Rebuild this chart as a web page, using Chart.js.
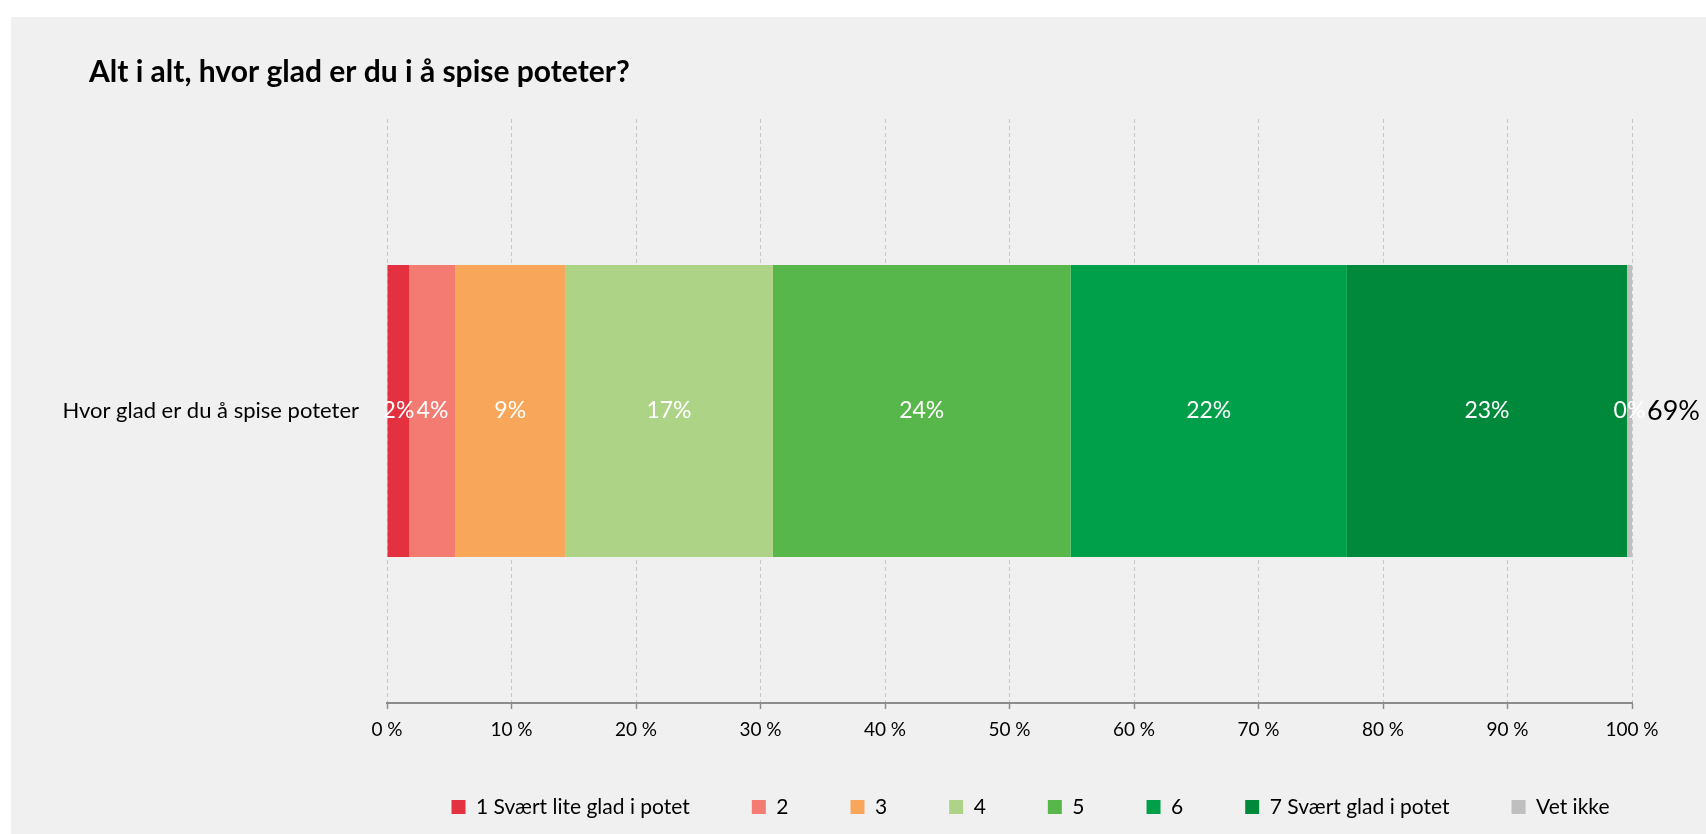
<!DOCTYPE html>
<html>
<head>
<meta charset="utf-8">
<script src="https://cdn.jsdelivr.net/npm/chart.js@4"></script>
<style>
  html, body { margin: 0; padding: 0; background: #ffffff; }
  #wrap {
    position: absolute; left: 11px; top: 17px;
    width: 1695px; height: 817px;
    background: #f0f0f0;
  }
</style>
</head>
<body>
<div id="wrap"><canvas id="potetChart"></canvas></div>
<script>
const categories = ['Hvor glad er du å spise poteter'];
const seriesNames = ['1 Svært lite glad i potet', '2', '3', '4', '5', '6', '7 Svært glad i potet', 'Vet ikke'];
const seriesValues = [1.8, 3.7, 8.8, 16.7, 23.9, 22.2, 22.5, 0.4];
const seriesColors = ['#e4313f', '#f47b72', '#f8a65a', '#add387', '#58b74b', '#00a04a', '#00893b', '#bfbfbf'];
const tickLabels = ['0 %', '10 %', '20 %', '30 %', '40 %', '50 %', '60 %', '70 %', '80 %', '90 %', '100 %'];
const extraLabel = '69%';

const FONT = 'Lato';
// nudges so title and legend land where the original puts them
const TITLE_SHIFT_X = 38;
const LEGEND_SHIFT_X = 189;
const LEGEND_SHIFT_Y = -5.5;

const datasets = seriesNames.map((name, i) => ({
  label: name,
  data: [seriesValues[i]],
  backgroundColor: seriesColors[i],
  borderWidth: 0,
  categoryPercentage: 1,
  barPercentage: 0.5
}));

// labels inside the bars + the stray black label after the bar
const barLabels = {
  id: 'barLabels',
  afterDatasetsDraw(chart) {
    const ctx = chart.ctx;
    ctx.save();
    ctx.textBaseline = 'middle';
    let lastBar = null;
    chart.data.datasets.forEach((ds, i) => {
      const meta = chart.getDatasetMeta(i);
      meta.data.forEach((bar, j) => {
        ctx.font = '23px ' + FONT;
        ctx.fillStyle = '#ffffff';
        ctx.textAlign = 'center';
        ctx.fillText(Math.round(ds.data[j]) + '%', (bar.x + bar.base) / 2, bar.y);
        lastBar = bar;
      });
    });
    if (lastBar) {
      ctx.font = '27px ' + FONT;
      ctx.fillStyle = '#000000';
      ctx.textAlign = 'left';
      ctx.fillText(extraLabel, lastBar.x + 15, lastBar.y);
    }
    ctx.restore();
  }
};

const boxShift = {
  id: 'boxShift',
  afterLayout(chart) {
    chart.titleBlock.left += TITLE_SHIFT_X;
    chart.titleBlock.right += TITLE_SHIFT_X;
    chart.legend.left += LEGEND_SHIFT_X;
    chart.legend.right += LEGEND_SHIFT_X;
    chart.legend.top += LEGEND_SHIFT_Y;
    chart.legend.bottom += LEGEND_SHIFT_Y;
  }
};

new Chart(document.getElementById('potetChart').getContext('2d'), {
  type: 'bar',
  data: { labels: categories, datasets: datasets },
  options: {
    indexAxis: 'y',
    responsive: true,
    maintainAspectRatio: false,
    animation: false,
    layout: { padding: { left: 40, right: 74, top: 0, bottom: 1 } },
    scales: {
      x: {
        stacked: true,
        min: 0,
        max: 100,
        afterFit(scale) { scale.height = 37; },
        ticks: {
          stepSize: 10,
          padding: 9,
          color: '#000000',
          font: { family: FONT, size: 19 },
          callback: (v, i) => tickLabels[i]
        },
        grid: {
          color: '#c8c8c8',
          lineWidth: 1,
          tickLength: 6,
          tickColor: '#8c8c8c',
          tickWidth: 1.5
        },
        border: { color: '#8c8c8c', width: 2, dash: [4, 3] }
      },
      y: {
        stacked: true,
        afterFit(scale) { scale.width = 336; },
        ticks: {
          padding: 28,
          color: '#000000',
          font: { family: FONT, size: 22 }
        },
        grid: { display: false, drawTicks: false },
        border: { display: false }
      }
    },
    plugins: {
      title: {
        display: true,
        text: 'Alt i alt, hvor glad er du i å spise poteter?',
        align: 'start',
        color: '#000000',
        font: { family: FONT, size: 30, weight: 'bold', lineHeight: 1.2 },
        padding: { top: 37, bottom: 29 }
      },
      legend: {
        position: 'bottom',
        align: 'center',
        labels: {
          color: '#000000',
          font: { family: FONT, size: 21 },
          boxWidth: 14,
          boxHeight: 14,
          padding: 62
        }
      },
      tooltip: { enabled: false }
    }
  },
  plugins: [barLabels, boxShift]
});
</script>
</body>
</html>
